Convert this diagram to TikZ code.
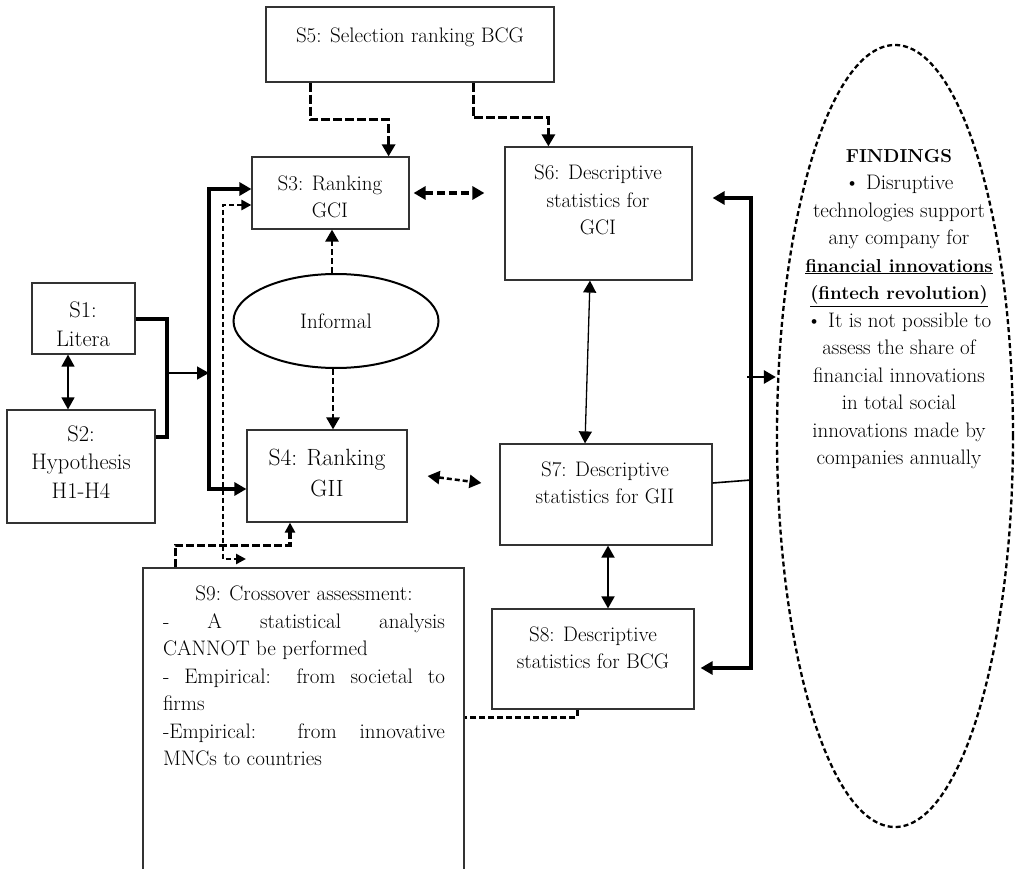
\documentclass[tikz,border=0pt]{standalone}
\usetikzlibrary{arrows.meta,shapes.geometric,calc}
\newcommand{\bfsm}[1]{{\fontsize{18.7}{27.5}\selectfont\textbf{#1}}}
\begin{document}
\begin{tikzpicture}[x=1pt,y=-1pt,
  box/.style={draw=black!80,line width=1.2pt,inner sep=0pt,rectangle},
  txt/.style={inner sep=0pt,align=center,font=\fontsize{21}{27.5}\selectfont},
  txtb/.style={inner sep=0pt,align=center,font=\fontsize{23.5}{31}\selectfont},
  txtm/.style={inner sep=0pt,align=center,font=\fontsize{22.5}{28.5}\selectfont},
  thk/.style={line width=4pt},
  thn/.style={line width=1.3pt},
  dshA/.style={line width=3.5pt,dash pattern=on 9pt off 3pt},
  dshB/.style={line width=2.5pt,dash pattern=on 5pt off 3pt},
  dshC/.style={line width=2.5pt,dash pattern=on 6pt off 3pt},
  ar/.style={-{Triangle[length=12pt,width=13pt]}},
  aar/.style={{Triangle[length=12pt,width=13pt]}-{Triangle[length=12pt,width=13pt]}},
  sar/.style={-{Triangle[length=10pt,width=10pt]}},
  saar/.style={{Triangle[length=10pt,width=10pt]}-{Triangle[length=10pt,width=10pt]}},
]
\useasboundingbox (0,0) rectangle (1015,869);
\fill[white] (0,0) rectangle (1015,869);

% boxes
\node[box,minimum width=288pt,minimum height=75pt] (s5) at (410,44.5) {};
\node[box,minimum width=157pt,minimum height=72pt] (s3) at (330.5,193) {};
\node[box,minimum width=187pt,minimum height=133pt] (s6) at (598.5,213.5) {};
\node[box,minimum width=103pt,minimum height=71pt] (s1) at (83.5,318.5) {};
\node[box,minimum width=148pt,minimum height=113pt] (s2) at (81,466.5) {};
\node[box,minimum width=160pt,minimum height=92pt] (s4) at (327,476) {};
\node[box,minimum width=212pt,minimum height=101pt] (s7) at (606,494.5) {};
\node[box,minimum width=202pt,minimum height=100pt] (s8) at (593,659) {};
\node[box,minimum width=321pt,minimum height=332pt] (s9) at (303.5,734) {};
\node[draw,ellipse,line width=2pt,minimum width=205pt,minimum height=94pt,inner sep=0pt,txt] (inf) at (336,321) {Informal};
\node[draw,ellipse,line width=2.3pt,dash pattern=on 5pt off 3pt,minimum width=236pt,minimum height=782pt,inner sep=0pt] (fnd) at (895,436) {};

% texts
\node[txt] (s5t) at (410,37) {S5: Selection ranking BCG};
\node[txt] (s3t) at (330,197) {S3: Ranking\\GCI};
\node[txt] (s6t) at (598,200) {S6: Descriptive\\statistics for\\GCI};
\node[txtm] (s1t) at (83,324) {S1:\\Litera};
\node[txtm] (s2t) at (81,462) {S2:\\Hypothesis\\H1-H4};
\node[txtb] (s4t) at (327,473) {S4: Ranking\\GII};
\node[txt] (s7t) at (605,483) {S7: Descriptive\\statistics for GII};
\node[txt] (s8t) at (593,648) {S8: Descriptive\\statistics for BCG};
\node[txt,align=left] (s9t) at (304,676) {\makebox[282pt][c]{S9: Crossover assessment:}\\
\makebox[282pt][s]{- A statistical analysis}\\
CANNOT be performed\\
\makebox[282pt][s]{- Empirical: from societal to}\\
firms\\
\makebox[282pt][s]{-Empirical: from innovative}\\
MNCs to countries};
\node[txt] (fndt) at (899,309) {\bfsm{FINDINGS}\\ \textbullet{} Disruptive\\ technologies support\\ any company for\\ \bfsm{\underline{financial innovations}}\\ \bfsm{\underline{(fintech revolution)}}\\ \textbullet{} It is not possible to\\ assess the share of\\ financial innovations\\ in total social\\ innovations made by\\ companies annually};

% coordinates
\coordinate (bx) at (167,373);
\coordinate (busb) at (209,489);
\coordinate (dbb) at (223,559);
\coordinate (r1) at (751,198);
\coordinate (r2) at (751,668);
\coordinate (r3) at (751,480);
\coordinate (r4) at (747,377);

% S5 connectors
\draw[dshA,ar] ([xshift=45pt]s5.south west) -- ++(0,37) -| ([xshift=-21pt]s3.north east);
\draw[dshA,ar] ([xshift=208pt]s5.south west) -- ++(0,35) -| ([xshift=44pt]s6.north west);
% S3 <-> S6
\draw[dshA,dash pattern=on 8pt off 4pt,aar] ([xshift=4pt]s3.east) -- ([xshift=-20pt]s3.east -| s6.west);
% Informal
\draw[dshC,ar] ([xshift=-4pt]inf.north) -- ([xshift=-4pt]inf.north |- s3.south);
\draw[dshC,ar] ([xshift=-3pt]inf.south) -- ([xshift=-3pt]inf.south |- s4.north);
% S4 <-> S7
\draw[dshB,aar] ([xshift=20pt]s4.east) -- ([xshift=-18pt,yshift=11.5pt]s7.west);
% S6 <-> S7, S7 <-> S8
\draw[thn,aar] ([xshift=-8.5pt]s6.south) -- ([xshift=-21pt]s7.north);
\draw[thn,line width=1.8pt,aar] ([xshift=2pt]s7.south) -- ([xshift=15pt]s8.north);
% S8 -- S9
\draw[line width=3pt,dash pattern=on 6pt off 3pt] ([xshift=-16pt]s8.south) |- ([yshift=17pt]s9.east);
% S1 <-> S2
\draw[thn,aar] ([xshift=-15.5pt]s1.south) -- ([xshift=-15.5pt]s1.south |- s2.north);
% bracket S1/S2
\draw[thk] (s1.east) -| (bx) |- ([yshift=29.5pt]s2.east);
\draw[thn,ar] (bx) -- (bx -| busb);
% thick bus to S3 and S4
\draw[thk,aar] ([yshift=4pt]s3.west) -| (busb) -- ([yshift=-13pt]s4.west);
% dashed bus S3 -- S9 area
\draw[dshB,saar] ([yshift=-12pt]s3.west) -| (dbb) -- ++(23,0);
% S9 -> S4
\draw[dshA,dash pattern=on 8pt off 3pt,sar] ([xshift=33pt]s9.north west) -- ++(0,-22) -| ([xshift=-37pt]s4.south);
% right bus
\draw[thk,aar] ([xshift=20pt,yshift=15.5pt]s6.east) -- (r1) -- (r2) -- ([xshift=6pt,yshift=-9pt]s8.east);
\draw[thn,line width=1.6pt] ([yshift=11.5pt]s7.east) -- (r3);
\draw[line width=2.8pt,ar] (r4) -- ([yshift=59pt]fnd.west);
\end{tikzpicture}
\end{document}
